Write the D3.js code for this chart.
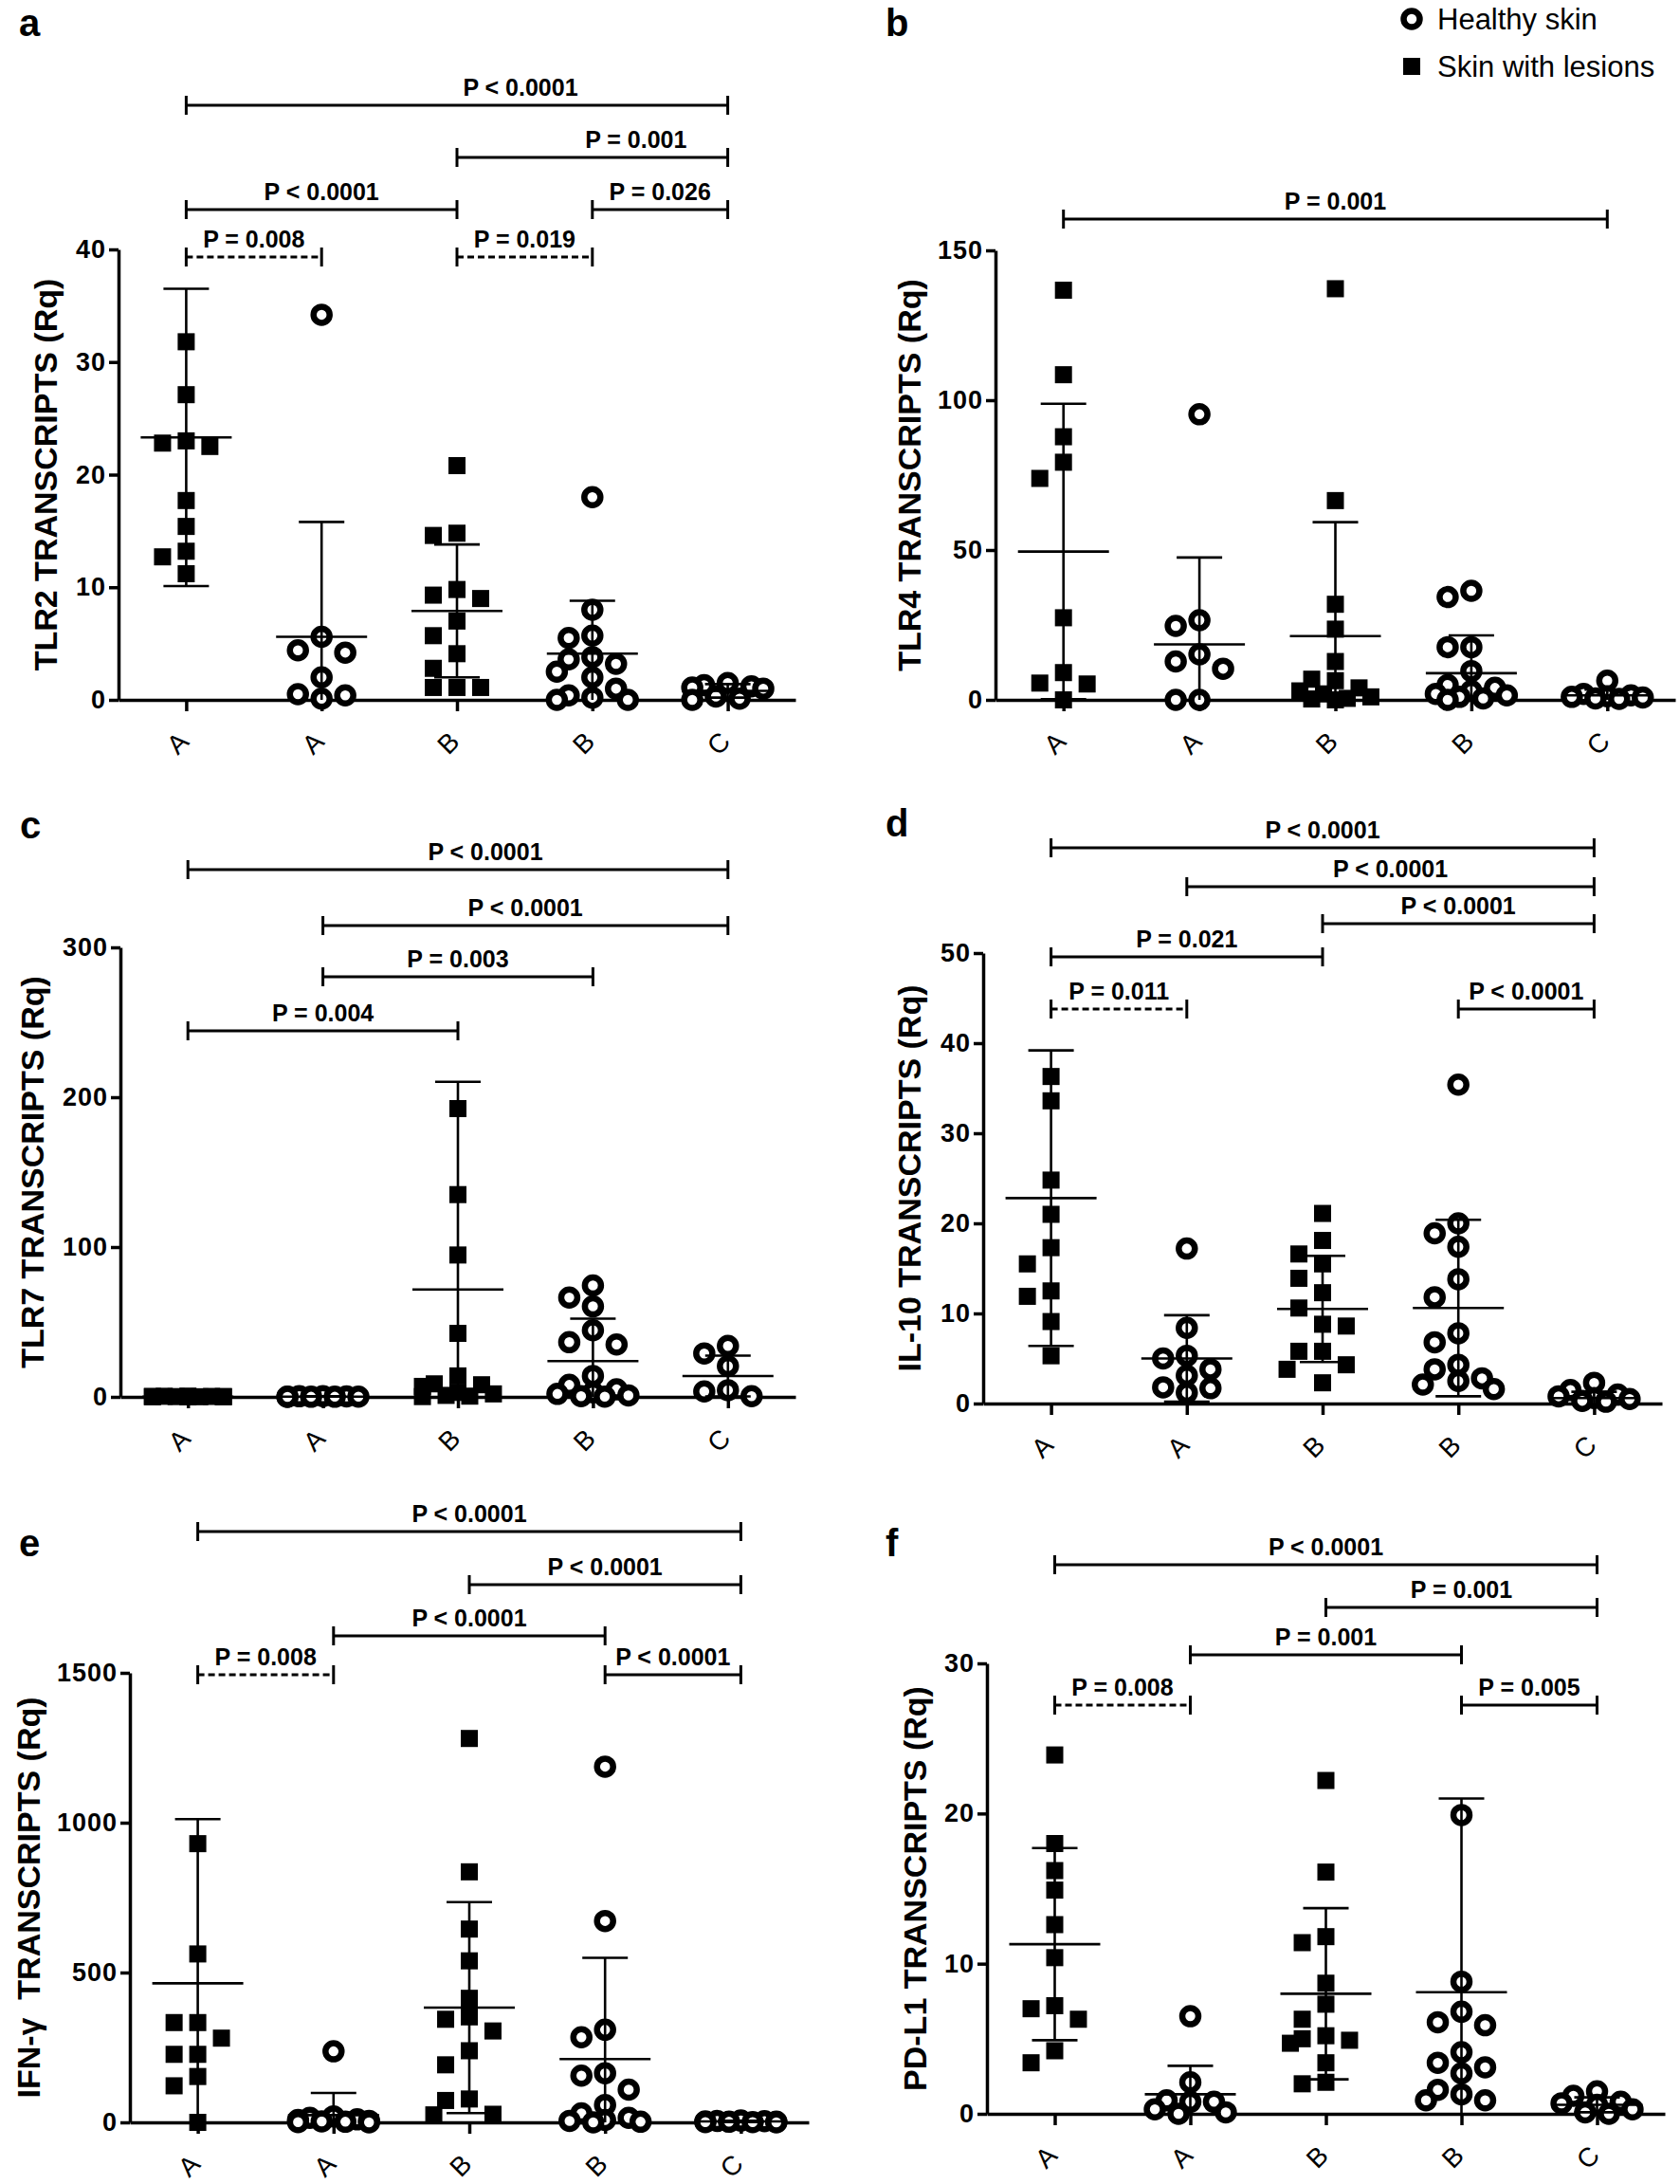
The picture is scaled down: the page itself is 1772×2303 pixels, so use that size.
<!DOCTYPE html>
<html>
<head>
<meta charset="utf-8">
<script src="https://cdn.jsdelivr.net/npm/d3@7"></script>
<style>
  body { margin: 0; background: #fff; }
  svg text { font-family: "Liberation Sans", Arial, sans-serif; fill: #000; }
</style>
</head>
<body>
<div id="chart"></div>
<script>
// Groups on the x axis, and which marker each one uses
var groups = ["A", "A", "B", "B", "C"];
var groupShape = ["square", "circle", "square", "circle", "circle"];

// a: TLR2
var tlr2Points = [
    [31.8, 27.1, 23.0, 22.8, 22.5, 17.7, 15.4, 13.2, 12.7, 11.2],
    [34.2, 5.6, 4.4, 4.2, 2.0, 0.5, 0.4, 0.1],
    [20.8, 14.8, 14.6, 9.8, 9.3, 9.0, 7.0, 5.7, 4.1, 2.8, 1.1, 1.1, 1.1],
    [18.0, 8.0, 5.7, 5.5, 3.8, 3.6, 3.2, 2.5, 2.0, 1.0, 0.4, 0.2, 0.0, 0.0],
    [1.5, 1.3, 1.2, 1.1, 1.0, 0.3, 0.1, 0.0]
];
var tlr2Mean = [23.3, 5.6, 7.9, 4.1, 0.8];
var tlr2Sd = [13.2, 10.2, 5.9, 4.7, 0.6];
var tlr2Ticks = [0, 10, 20, 30, 40];
var tlr2Brackets = [
    [0, 4, "P < 0.0001", false], [2, 4, "P = 0.001", false], [0, 2, "P < 0.0001", false],
    [3, 4, "P = 0.026", false], [0, 1, "P = 0.008", true], [2, 3, "P = 0.019", true]
];

// b: TLR4
var tlr4Points = [
    [136.7, 108.5, 87.8, 79.3, 73.9, 27.4, 9.1, 5.6, 5.3, 0.0],
    [95.3, 26.6, 24.7, 15.2, 12.8, 10.4, 0.0, 0.0],
    [137.2, 66.5, 31.9, 23.6, 12.8, 6.9, 6.4, 4.0, 3.0, 2.0, 1.0, 0.5, 0.3, 0.0],
    [36.4, 34.3, 17.6, 17.6, 9.6, 5.0, 4.0, 3.0, 2.0, 1.5, 1.0, 0.5, 0.0],
    [6.4, 2.0, 1.5, 1.2, 1.0, 0.8, 0.5, 0.3]
];
var tlr4Mean = [49.5, 18.5, 21.3, 8.9, 1.5];
var tlr4Sd = [49.3, 29.0, 38.0, 12.6, 1.9];
var tlr4Ticks = [0, 50, 100, 150];
var tlr4Brackets = [[0, 4, "P = 0.001", false]];

// c: TLR7
var tlr7Points = [
    [0.5, 0.4, 0.3, 0.3, 0.2, 0.2, 0.1, 0.1, 0.1, 0.0],
    [0.5, 0.4, 0.3, 0.2, 0.2, 0.1, 0.1, 0.0],
    [192.4, 135.0, 94.7, 42.4, 14.0, 8.7, 8.1, 7.0, 3.0, 2.0, 1.0, 0.5, 0.2],
    [74.4, 66.3, 60.4, 44.5, 36.5, 35.0, 14.0, 8.0, 5.0, 3.0, 2.0, 1.0, 0.5, 0.2],
    [34.0, 29.0, 20.6, 4.5, 3.6, 0.5]
];
var tlr7Mean = [0.2, 0.2, 71.7, 23.9, 13.9];
var tlr7Sd = [0.15, 0.2, 138.6, 28.3, 13.6];
var tlr7Ticks = [0, 100, 200, 300];
var tlr7Brackets = [
    [0, 4, "P < 0.0001", false], [1, 4, "P < 0.0001", false],
    [1, 3, "P = 0.003", false], [0, 2, "P = 0.004", false]
];

// d: IL-10
var il10Points = [
    [36.3, 33.6, 24.8, 21.0, 17.3, 15.5, 12.5, 11.9, 9.1, 5.3],
    [17.2, 8.4, 5.3, 5.0, 3.8, 3.1, 1.8, 1.7, 1.2],
    [21.1, 18.1, 16.6, 15.5, 13.9, 12.3, 10.6, 8.8, 8.6, 5.8, 5.8, 4.3, 3.8, 2.3],
    [35.4, 20.0, 18.9, 17.4, 13.8, 11.8, 7.8, 6.8, 4.3, 3.8, 2.8, 2.5, 2.1, 1.6],
    [2.3, 1.5, 1.0, 0.8, 0.6, 0.5, 0.3, 0.2]
];
var il10Mean = [22.8, 5.0, 10.5, 10.6, 0.6];
var il10Sd = [16.4, 4.8, 5.9, 9.8, 0.7];
var il10Ticks = [0, 10, 20, 30, 40, 50];
var il10Brackets = [
    [0, 4, "P < 0.0001", false], [1, 4, "P < 0.0001", false], [2, 4, "P < 0.0001", false],
    [0, 2, "P = 0.021", false], [0, 1, "P = 0.011", true], [3, 4, "P < 0.0001", false]
];

// e: IFN-γ
var ifngPoints = [
    [930, 562, 333, 333, 281, 227, 227, 153, 122, 0],
    [237, 20, 15, 10, 8, 5, 3, 2, 1, 0],
    [1281, 836, 645, 539, 414, 352, 344, 305, 239, 192, 78, 73, 27, 25],
    [1187, 672, 309, 284, 164, 156, 109, 58, 30, 15, 8, 5, 2, 0],
    [6, 5, 4, 3, 2, 2, 1, 1, 0]
];
var ifngMean = [464, 24, 383, 211, 3];
var ifngSd = [548, 74, 352, 338, 2];
var ifngTicks = [0, 500, 1000, 1500];
var ifngBrackets = [
    [0, 4, "P < 0.0001", false], [2, 4, "P < 0.0001", false], [1, 3, "P < 0.0001", false],
    [0, 1, "P = 0.008", true], [3, 4, "P < 0.0001", false]
];

// f: PD-L1
var pdl1Points = [
    [23.9, 18.0, 16.2, 14.9, 12.6, 10.4, 7.2, 7.0, 6.3, 4.2, 3.4],
    [6.5, 2.1, 0.9, 0.8, 0.8, 0.3, 0.1, 0.0],
    [22.2, 16.1, 11.8, 11.4, 8.7, 7.3, 6.3, 5.2, 5.0, 4.9, 4.7, 3.4, 2.1, 2.0],
    [19.9, 8.8, 6.8, 6.1, 5.9, 4.1, 3.4, 3.1, 2.7, 1.6, 1.3, 0.9, 0.9],
    [1.5, 1.2, 0.8, 0.7, 0.6, 0.3, 0.1, 0.0]
];
var pdl1Mean = [11.3, 1.3, 8.0, 8.1, 0.6];
var pdl1Sd = [6.4, 1.9, 5.7, 12.9, 0.5];
var pdl1Ticks = [0, 10, 20, 30];
var pdl1Brackets = [
    [0, 4, "P < 0.0001", false], [2, 4, "P = 0.001", false], [1, 3, "P = 0.001", false],
    [0, 1, "P = 0.008", true], [3, 4, "P = 0.005", false]
];

var legendLabels = ["Healthy skin", "Skin with lesions"];

// Layout of each panel on the page (pixels)
var panels = [
    {letter: "a", lx: 20, ly: 38, axisX: 125, axisRight: 839, yTop: 263, y0: 738, titleX: 48,
     title: "TLR2 TRANSCRIPTS (Rq)", points: tlr2Points, mean: tlr2Mean, sd: tlr2Sd, ticks: tlr2Ticks,
     brackets: tlr2Brackets, bracketY: [111, 166, 221, 221, 271, 271], labelShift: [67, 46, 0, 0, 0, 0]},
    {letter: "b", lx: 934, ly: 38, axisX: 1050, axisRight: 1767, yTop: 264, y0: 738, titleX: 959,
     title: "TLR4 TRANSCRIPTS (Rq)", points: tlr4Points, mean: tlr4Mean, sd: tlr4Sd, ticks: tlr4Ticks,
     brackets: tlr4Brackets, bracketY: [231], labelShift: [0]},
    {letter: "c", lx: 21, ly: 884, axisX: 127, axisRight: 839, yTop: 999, y0: 1473, titleX: 34,
     title: "TLR7 TRANSCRIPTS (Rq)", points: tlr7Points, mean: tlr7Mean, sd: tlr7Sd, ticks: tlr7Ticks,
     brackets: tlr7Brackets, bracketY: [917, 976, 1030, 1087], labelShift: [29, 0, 0, 0]},
    {letter: "d", lx: 934, ly: 882, axisX: 1037, axisRight: 1753, yTop: 1005, y0: 1480, titleX: 959,
     title: "IL-10 TRANSCRIPTS (Rq)", points: il10Points, mean: il10Mean, sd: il10Sd, ticks: il10Ticks,
     brackets: il10Brackets, bracketY: [894, 935, 974, 1009, 1064, 1064], labelShift: [0, 0, 0, 0, 0, 0]},
    {letter: "e", lx: 20, ly: 1641, axisX: 137, axisRight: 853, yTop: 1764, y0: 2238, titleX: 30,
     title: "IFN-\u03b3  TRANSCRIPTS (Rq)", points: ifngPoints, mean: ifngMean, sd: ifngSd, ticks: ifngTicks,
     brackets: ifngBrackets, bracketY: [1615, 1671, 1725, 1766, 1766], labelShift: [0, 0, 0, 0, 0]},
    {letter: "f", lx: 934, ly: 1641, axisX: 1041, axisRight: 1756, yTop: 1754, y0: 2229, titleX: 965,
     title: "PD-L1 TRANSCRIPTS (Rq)", points: pdl1Points, mean: pdl1Mean, sd: pdl1Sd, ticks: pdl1Ticks,
     brackets: pdl1Brackets, bracketY: [1650, 1695, 1745, 1798, 1798], labelShift: [0, 0, 0, 0, 0]}
];

var svgWidth = 1772;
var svgHeight = 2303;

var svg = d3.select("#chart")
            .append("svg")
            .attr("width", svgWidth)
            .attr("height", svgHeight);

svg.append("rect")
   .attr("width", svgWidth)
   .attr("height", svgHeight)
   .attr("fill", "#fff");

var markerSize = 24;   // spacing used by the point spreading
var squareSide = 18;
var circleR = 8.5;

// Spread points sideways when they would overlap (column scatter, like the original)
function swarm(values, yScale){
    var placed = [];
    var step = markerSize * 0.52;
    var gap = markerSize * 0.8;
    var maxK = 3;
    values.forEach(function(v){
        var py = yScale(v);
        var best = 0, bestScore = Infinity;
        for (var i = 0; i <= 2 * maxK; i++){
            var k = i === 0 ? 0 : (i % 2 ? -Math.ceil(i / 2) : Math.ceil(i / 2));
            var dx = k * step;
            // how much this spot would overlap the points already placed
            var score = d3.sum(placed, p =>
                Math.max(0, gap - Math.abs(p.dx - dx)) * Math.max(0, gap - Math.abs(p.py - py)));
            if (score === 0){ best = dx; break; }
            if (score < bestScore){ bestScore = score; best = dx; }
        }
        placed.push({dx: best, py: py, v: v});
    });
    return placed;
}

function drawPanel(p){
    var g = svg.append("g");

    var x = d3.scalePoint()
        .domain(d3.range(groups.length))
        .range([p.axisX, p.axisRight])
        .padding(0.5);

    var y = d3.scaleLinear()
        .domain([0, p.ticks[p.ticks.length - 1]])
        .range([p.y0, p.yTop]);

    // panel letter
    g.append("text")
     .attr("x", p.lx)
     .attr("y", p.ly)
     .attr("font-size", 40)
     .attr("font-weight", "bold")
     .text(p.letter);

    // y axis
    var yAxis = g.append("g")
        .attr("transform", `translate(${p.axisX},0)`)
        .call(d3.axisLeft(y).tickValues(p.ticks).tickSize(10).tickSizeOuter(0)
                .tickPadding(3).tickFormat(d3.format("d")));
    yAxis.selectAll("path, line").attr("stroke", "#000").attr("stroke-width", 3.5);
    yAxis.selectAll("text")
         .attr("font-size", 27)
         .attr("font-weight", "bold")
         .attr("letter-spacing", 1)
         .attr("font-family", "Liberation Sans, Arial, sans-serif")
         .attr("fill", "#000");

    // x axis
    var xAxis = g.append("g")
        .attr("transform", `translate(0,${p.y0})`)
        .call(d3.axisBottom(x).tickSize(12).tickSizeOuter(0).tickFormat(i => groups[i]));
    xAxis.selectAll("path, line").attr("stroke", "#000").attr("stroke-width", 3.5);
    xAxis.selectAll("text")
         .attr("x", -3)
         .attr("y", 39)
         .attr("dy", null)
         .attr("text-anchor", "end")
         .attr("dominant-baseline", "central")
         .attr("transform", "rotate(-45, -3, 39)")
         .attr("font-size", 28)
         .attr("font-family", "Liberation Sans, Arial, sans-serif")
         .attr("fill", "#000");

    // y axis title
    var cy = (p.yTop + p.y0) / 2;
    g.append("text")
     .attr("transform", `translate(${p.titleX},${cy}) rotate(-90)`)
     .attr("text-anchor", "middle")
     .attr("dominant-baseline", "central")
     .attr("font-size", 34)
     .attr("font-weight", "bold")
     .style("white-space", "pre")
     .text(p.title);

    // points
    p.points.forEach(function(vals, gi){
        var cx = x(gi);
        var placed = swarm(vals, y);
        var sel = g.append("g").selectAll(".pt").data(placed).enter();
        if (groupShape[gi] === "square"){
            sel.append("rect")
               .attr("x", d => cx + d.dx - squareSide / 2)
               .attr("y", d => d.py - squareSide / 2)
               .attr("width", squareSide)
               .attr("height", squareSide)
               .attr("fill", "#000");
        } else {
            sel.append("circle")
               .attr("cx", d => cx + d.dx)
               .attr("cy", d => d.py)
               .attr("r", circleR)
               .attr("fill", "#fff")
               .attr("stroke", "#000")
               .attr("stroke-width", 6.5);
        }
    });

    // mean and SD bars
    p.mean.forEach(function(m, gi){
        var cx = x(gi);
        var sd = p.sd[gi];
        var lo = Math.max(0, m - sd);
        var hi = m + sd;
        var eb = g.append("g").attr("stroke", "#000").attr("stroke-width", 2.6);
        eb.append("line").attr("x1", cx).attr("x2", cx).attr("y1", y(lo)).attr("y2", y(hi));
        eb.append("line").attr("x1", cx - 48).attr("x2", cx + 48).attr("y1", y(m)).attr("y2", y(m));
        eb.append("line").attr("x1", cx - 24).attr("x2", cx + 24).attr("y1", y(hi)).attr("y2", y(hi));
        if (m - sd > 0){
            eb.append("line").attr("x1", cx - 24).attr("x2", cx + 24).attr("y1", y(lo)).attr("y2", y(lo));
        }
    });

    // significance brackets
    p.brackets.forEach(function(b, bi){
        var by = p.bracketY[bi];
        var x1 = x(b[0]), x2 = x(b[1]);
        var bg = g.append("g").attr("stroke", "#000").attr("stroke-width", 3);
        bg.append("line")
          .attr("x1", x1).attr("x2", x2).attr("y1", by).attr("y2", by)
          .attr("stroke-dasharray", b[3] ? "7,4" : null);
        bg.append("line").attr("x1", x1).attr("x2", x1).attr("y1", by - 10).attr("y2", by + 10);
        bg.append("line").attr("x1", x2).attr("x2", x2).attr("y1", by - 10).attr("y2", by + 10);
        g.append("text")
         .attr("x", (x1 + x2) / 2 + p.labelShift[bi])
         .attr("y", by - 10)
         .attr("text-anchor", "middle")
         .attr("font-size", 25)
         .attr("font-weight", "bold")
         .text(b[2]);
    });
}

panels.forEach(drawPanel);

// legend
var legend = svg.append("g");
legend.append("circle")
      .attr("cx", 1489).attr("cy", 20).attr("r", circleR)
      .attr("fill", "#fff").attr("stroke", "#000").attr("stroke-width", 6.5);
legend.append("rect")
      .attr("x", 1489 - squareSide / 2).attr("y", 70 - squareSide / 2)
      .attr("width", squareSide).attr("height", squareSide).attr("fill", "#000");
legend.selectAll("text")
      .data(legendLabels)
      .enter()
      .append("text")
      .attr("x", 1516)
      .attr("y", (d, i) => i === 0 ? 20 : 70)
      .attr("dominant-baseline", "central")
      .attr("font-size", 31)
      .text(d => d);
</script>
</body>
</html>
